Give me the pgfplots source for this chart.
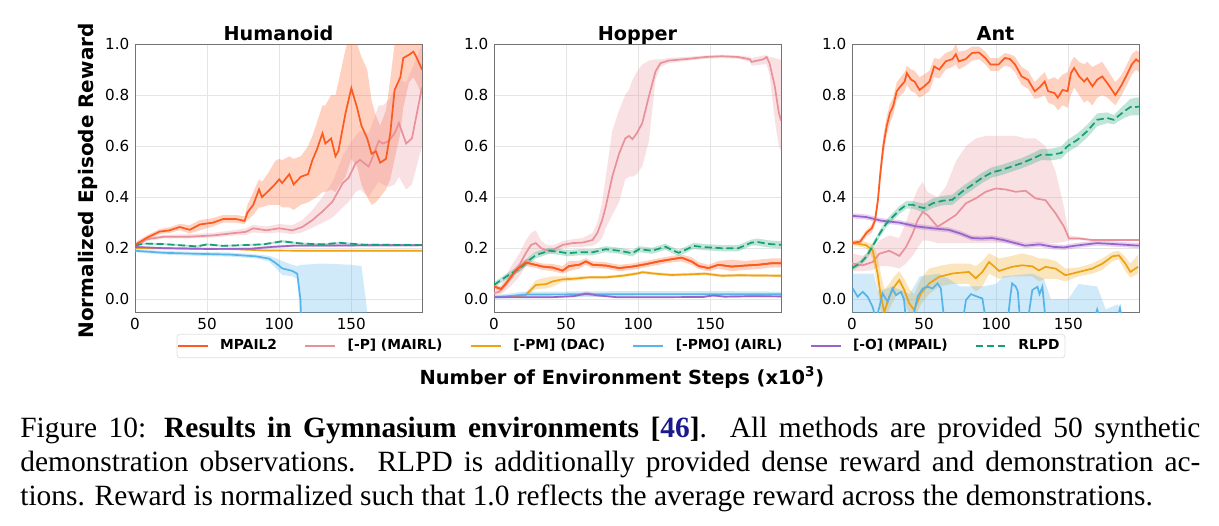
\documentclass[border=0pt]{standalone}
\usepackage{pgfplots}
\usepackage{pgfplotstable}
\pgfplotsset{compat=1.18}
\usepgfplotslibrary{fillbetween}
\usepackage{fontspec}
\setmainfont{DejaVu Sans}
\newfontfamily\capfont{Liberation Serif}

\definecolor{cM}{HTML}{FC5A1E}
\definecolor{cP}{HTML}{E8919B}
\definecolor{cD}{HTML}{EEA111}
\definecolor{cA}{HTML}{56B4E9}
\definecolor{cO}{HTML}{9B62C9}
\definecolor{cR}{HTML}{14A074}
\definecolor{navy}{HTML}{1A1A8C}

% ---------------- Humanoid ----------------
\pgfplotstableread{
x m lo hi
0 0.213 0.205 0.222
8 0.240 0.232 0.250
17 0.265 0.255 0.275
24 0.270 0.260 0.282
31 0.283 0.270 0.295
38 0.272 0.258 0.290
45 0.293 0.270 0.310
54 0.300 0.285 0.318
61 0.314 0.300 0.330
70 0.314 0.300 0.330
76 0.307 0.295 0.325
78 0.340 0.310 0.370
82 0.370 0.330 0.420
86 0.430 0.360 0.470
88 0.400 0.360 0.460
93 0.427 0.370 0.500
97 0.450 0.370 0.540
100 0.470 0.370 0.550
102 0.455 0.360 0.545
107 0.490 0.360 0.560
110 0.450 0.350 0.550
115 0.480 0.370 0.560
120 0.490 0.380 0.600
123 0.545 0.390 0.640
126 0.585 0.400 0.690
130 0.650 0.420 0.760
132 0.610 0.420 0.760
136 0.630 0.430 0.800
139 0.560 0.420 0.800
141 0.580 0.440 0.850
146 0.730 0.480 0.980
150 0.827 0.550 1.050
154 0.750 0.520 1.000
157 0.680 0.450 0.950
161 0.630 0.400 0.900
164 0.570 0.370 0.780
167 0.580 0.380 0.720
170 0.535 0.400 0.680
174 0.550 0.430 0.740
177 0.650 0.470 0.860
180 0.820 0.550 1.000
184 0.870 0.650 1.050
186 0.945 0.750 1.050
190 0.958 0.850 1.050
193 0.970 0.870 1.050
195 0.950 0.850 1.050
199 0.900 0.800 1.000
}\HuM
\pgfplotstableread{
x m lo hi
0 0.205 0.200 0.212
8 0.235 0.228 0.242
20 0.245 0.238 0.252
38 0.245 0.238 0.255
54 0.250 0.242 0.260
70 0.260 0.250 0.272
77 0.264 0.252 0.278
82 0.278 0.262 0.292
91 0.270 0.258 0.285
100 0.278 0.262 0.295
109 0.270 0.255 0.290
116 0.283 0.262 0.310
123 0.310 0.280 0.350
130 0.344 0.300 0.400
137 0.383 0.320 0.460
144 0.455 0.360 0.560
148 0.475 0.380 0.600
153 0.533 0.420 0.640
156 0.546 0.430 0.660
162 0.520 0.400 0.650
164 0.546 0.420 0.680
169 0.620 0.460 0.760
172 0.610 0.450 0.760
176 0.620 0.440 0.780
180 0.650 0.450 0.820
183 0.690 0.480 0.860
188 0.610 0.430 0.850
192 0.630 0.450 0.900
199 0.830 0.600 1.000
}\HuP
\pgfplotstableread{
x m lo hi
0 0.200 0.197 0.203
40 0.199 0.196 0.202
70 0.196 0.193 0.199
90 0.191 0.188 0.194
120 0.190 0.187 0.193
199 0.190 0.187 0.193
}\HuD
\pgfplotstableread{
x m lo hi
0 0.190 0.184 0.196
20 0.182 0.175 0.189
43 0.178 0.170 0.186
66 0.175 0.167 0.183
84 0.168 0.160 0.176
93 0.159 0.148 0.170
98 0.140 0.120 0.160
102 0.121 0.095 0.150
109 0.111 0.090 0.135
112.5 0.100 0.080 0.130
114.8 -0.004 -0.100 0.135
116 -0.500 -0.600 0.135
130 -0.500 -0.600 0.140
150 -0.500 -0.600 0.135
157 -0.500 -0.600 0.130
160 -0.500 -0.600 0.000
162 -0.500 -0.600 -0.100
199 -0.500 -0.600 -0.500
}\HuA
\pgfplotstableread{
x m lo hi
0 0.205 0.201 0.209
20 0.200 0.196 0.204
50 0.197 0.193 0.201
80 0.198 0.194 0.202
95 0.205 0.200 0.210
110 0.210 0.205 0.215
199 0.212 0.207 0.217
}\HuO
\pgfplotstableread{
x m lo hi
0 0.212 0.208 0.216
8 0.218 0.214 0.222
20 0.216 0.212 0.220
43 0.207 0.203 0.211
50 0.215 0.211 0.219
61 0.209 0.205 0.213
89 0.215 0.211 0.219
102 0.227 0.222 0.232
116 0.218 0.214 0.222
130 0.215 0.211 0.219
142 0.221 0.217 0.225
158 0.214 0.210 0.218
199 0.212 0.208 0.216
}\HuR

% ---------------- Hopper ----------------
\pgfplotstableread{
x m lo hi
0 0.050 0.040 0.060
5 0.040 0.030 0.050
8.5 0.063 0.050 0.075
15.4 0.115 0.100 0.130
22 0.144 0.130 0.158
27 0.137 0.125 0.150
33.8 0.128 0.115 0.140
40.7 0.124 0.110 0.138
47.6 0.112 0.100 0.130
52 0.130 0.110 0.150
59 0.135 0.120 0.150
63.7 0.148 0.135 0.160
68.3 0.135 0.122 0.148
77.5 0.132 0.120 0.145
86.7 0.122 0.110 0.135
96 0.128 0.115 0.140
105 0.137 0.125 0.150
114 0.148 0.135 0.160
123.4 0.157 0.145 0.170
130 0.163 0.148 0.175
137 0.148 0.135 0.165
142 0.130 0.118 0.145
148.7 0.122 0.110 0.135
155.6 0.135 0.120 0.150
164.8 0.128 0.110 0.155
174 0.132 0.115 0.150
183 0.135 0.118 0.155
192.4 0.141 0.125 0.160
199 0.141 0.125 0.160
}\HoM
\pgfplotstableread{
x m lo hi
0 0.024 0.015 0.035
4 0.030 0.018 0.045
8.5 0.063 0.035 0.095
13 0.100 0.060 0.140
17.7 0.135 0.090 0.180
22 0.180 0.130 0.230
25.7 0.213 0.170 0.260
29 0.220 0.180 0.270
32.6 0.200 0.180 0.230
36 0.193 0.180 0.215
40.7 0.193 0.180 0.210
47.6 0.213 0.200 0.228
54.5 0.220 0.205 0.235
61.4 0.222 0.205 0.240
68.3 0.232 0.210 0.260
71.7 0.260 0.220 0.300
75 0.310 0.240 0.380
77.5 0.363 0.280 0.480
82 0.480 0.330 0.660
86.7 0.570 0.380 0.740
91 0.630 0.470 0.800
93.6 0.640 0.480 0.820
96 0.627 0.480 0.860
99 0.650 0.490 0.890
102.8 0.690 0.520 0.920
107.4 0.795 0.620 0.935
112 0.893 0.860 0.940
115.4 0.925 0.910 0.940
121 0.935 0.925 0.945
135 0.942 0.935 0.950
146.4 0.949 0.942 0.955
158 0.952 0.945 0.958
169.4 0.949 0.942 0.955
177.5 0.940 0.930 0.950
178.6 0.930 0.915 0.945
186.7 0.940 0.920 0.955
189 0.949 0.920 0.955
191 0.925 0.880 0.950
194.7 0.834 0.700 0.945
197.5 0.730 0.600 0.940
199 0.700 0.580 0.940
}\HoP
\pgfplotstableread{
x m lo hi
0 0.010 0.006 0.014
13 0.010 0.006 0.014
22 0.017 0.010 0.025
29 0.056 0.040 0.075
36 0.059 0.042 0.085
40.7 0.070 0.050 0.090
47.6 0.078 0.068 0.090
54.5 0.080 0.072 0.088
66 0.086 0.080 0.092
77.5 0.086 0.080 0.092
89 0.092 0.086 0.098
100.5 0.102 0.096 0.108
102.8 0.106 0.100 0.112
112 0.100 0.094 0.106
123.4 0.095 0.089 0.101
146.4 0.100 0.094 0.106
158 0.092 0.086 0.098
169.4 0.094 0.088 0.100
199 0.092 0.086 0.098
}\HoD
\pgfplotstableread{
x m lo hi
0 0.008 0.002 0.015
10 0.012 0.004 0.022
20 0.018 0.008 0.030
40 0.019 0.008 0.030
100 0.020 0.010 0.032
150 0.020 0.010 0.032
199 0.020 0.010 0.030
}\HoA
\pgfplotstableread{
x m lo hi
0 0.008 0.005 0.011
40 0.008 0.005 0.011
55 0.012 0.008 0.016
64 0.022 0.015 0.030
72 0.015 0.010 0.020
85 0.008 0.005 0.011
120 0.008 0.005 0.011
145 0.009 0.005 0.013
152 0.015 0.010 0.020
160 0.010 0.006 0.014
180 0.012 0.008 0.016
199 0.011 0.007 0.015
}\HoO
\pgfplotstableread{
x m lo hi
0 0.056 0.046 0.066
8.5 0.089 0.078 0.100
17.7 0.120 0.108 0.132
24.6 0.154 0.140 0.168
29 0.173 0.160 0.186
38.4 0.190 0.178 0.202
45 0.186 0.174 0.198
51 0.180 0.168 0.192
59 0.184 0.172 0.196
68.3 0.184 0.172 0.196
77.5 0.196 0.184 0.208
86.7 0.190 0.178 0.202
96 0.180 0.168 0.192
100.5 0.196 0.184 0.208
109.7 0.190 0.178 0.202
118.9 0.206 0.194 0.218
123.4 0.193 0.181 0.205
128 0.182 0.170 0.194
132.6 0.193 0.181 0.205
138.4 0.209 0.197 0.221
146.4 0.204 0.192 0.216
158 0.200 0.188 0.212
169.4 0.200 0.188 0.212
178.6 0.222 0.210 0.234
183 0.224 0.210 0.238
190 0.217 0.203 0.231
199 0.213 0.199 0.227
}\HoR

% ---------------- Ant ----------------
\pgfplotstableread{
x m lo hi
0 0.220 0.212 0.228
5.7 0.226 0.216 0.236
10 0.260 0.245 0.272
13.7 0.278 0.262 0.292
16 0.310 0.290 0.330
18 0.390 0.360 0.420
19.4 0.480 0.440 0.520
21.7 0.600 0.560 0.640
24 0.677 0.640 0.715
26.3 0.730 0.690 0.765
28.5 0.756 0.720 0.790
31 0.815 0.780 0.850
33 0.830 0.795 0.865
36.5 0.853 0.815 0.890
38 0.886 0.840 0.915
41 0.860 0.815 0.900
43.4 0.853 0.810 0.895
46.8 0.820 0.790 0.870
50 0.834 0.800 0.880
53.7 0.853 0.815 0.895
57 0.912 0.870 0.945
60.5 0.900 0.865 0.940
65 0.932 0.900 0.965
69.6 0.941 0.910 0.975
72 0.960 0.920 1.000
74 0.932 0.900 0.970
78.8 0.941 0.915 0.975
83.3 0.965 0.935 0.990
88 0.967 0.940 0.990
92.5 0.945 0.920 0.970
96 0.920 0.895 0.945
101.6 0.920 0.895 0.945
106 0.945 0.915 0.965
109.6 0.941 0.910 0.960
113 0.920 0.890 0.950
117.6 0.873 0.840 0.910
122 0.860 0.825 0.895
126.7 0.815 0.785 0.850
130 0.830 0.790 0.870
133.6 0.853 0.800 0.890
136 0.815 0.770 0.860
140.4 0.808 0.760 0.870
142.7 0.790 0.740 0.860
146 0.820 0.760 0.880
149.5 0.815 0.750 0.890
151.8 0.886 0.800 0.930
154 0.906 0.830 0.950
157.5 0.873 0.800 0.930
161 0.853 0.770 0.920
163 0.866 0.780 0.930
166.7 0.834 0.760 0.910
170 0.860 0.790 0.920
173.5 0.873 0.800 0.930
177 0.847 0.790 0.900
182.6 0.800 0.760 0.850
187 0.840 0.800 0.880
190.6 0.880 0.840 0.920
194 0.920 0.880 0.960
197 0.940 0.900 0.975
199 0.930 0.890 0.970
}\AnM
\pgfplotstableread{
x m lo hi
0 0.140 0.110 0.180
7.4 0.133 0.110 0.170
14.3 0.146 0.115 0.190
18.9 0.178 0.130 0.230
25.8 0.190 0.130 0.250
32.8 0.170 0.120 0.240
37.4 0.204 0.140 0.300
42 0.257 0.170 0.380
45.4 0.309 0.200 0.430
49 0.342 0.230 0.460
52.4 0.330 0.230 0.420
59.3 0.284 0.220 0.400
65 0.304 0.220 0.440
72 0.330 0.220 0.540
79 0.376 0.220 0.600
85.8 0.395 0.220 0.630
92.7 0.421 0.220 0.640
99.7 0.434 0.220 0.640
106.6 0.430 0.220 0.640
113.5 0.421 0.220 0.640
120.4 0.425 0.220 0.630
127.3 0.395 0.220 0.630
134.2 0.388 0.220 0.600
141.2 0.336 0.220 0.500
147 0.284 0.225 0.360
150.4 0.238 0.230 0.250
157.3 0.238 0.232 0.245
166.5 0.232 0.228 0.236
199 0.232 0.228 0.236
}\AnP
\pgfplotstableread{
x m lo hi
0.5 0.221 0.212 0.230
9.7 0.212 0.200 0.225
14.3 0.192 0.160 0.215
17.8 0.100 0.040 0.170
20 0.010 -0.050 0.100
22.4 -0.050 -0.100 0.040
25.8 0.010 -0.040 0.060
29.3 0.049 0.000 0.090
32.8 0.075 0.030 0.110
36.2 0.036 -0.010 0.080
39.7 -0.016 -0.060 0.040
43.1 -0.042 -0.080 0.020
47.8 0.023 -0.020 0.080
53.5 0.062 0.020 0.120
60.5 0.088 0.050 0.130
69.6 0.101 0.060 0.140
81 0.107 0.060 0.140
85.8 0.082 0.030 0.130
90.4 0.107 0.050 0.150
95 0.146 0.100 0.180
102 0.111 0.080 0.160
111 0.127 0.090 0.170
118 0.133 0.090 0.180
125 0.129 0.090 0.170
129.6 0.113 0.070 0.160
134.2 0.127 0.080 0.160
141.2 0.120 0.080 0.150
148 0.094 0.070 0.120
157.3 0.107 0.090 0.125
166.5 0.120 0.100 0.140
173.5 0.139 0.115 0.160
180.5 0.168 0.150 0.185
185 0.172 0.155 0.190
189.6 0.139 0.110 0.165
193 0.107 0.085 0.140
198.4 0.127 0.100 0.175
}\AnD
\pgfplotstableread{
x lo hi
0 -0.2 0.10
15 -0.2 0.10
18 -0.2 0.03
28 -0.2 0.05
40 -0.2 0.02
47 -0.2 0.09
60 -0.2 0.10
67 -0.2 0.08
75 -0.2 0.05
90 -0.2 0.05
100 -0.2 0.06
105 -0.2 0.09
125 -0.2 0.10
133 -0.2 0.08
138 -0.2 0.00
150 -0.2 0.00
157 -0.2 0.06
170 -0.2 0.05
176 -0.2 -0.04
184 -0.2 -0.02
190 -0.2 -0.07
199 -0.2 -0.07
}\AnAb
\pgfplotstableread{
x m
0.5 0.042
3.9 0.010
7.4 0.029
10.8 0.010
14.3 -0.030
16.6 -0.080
19 -0.030
21.2 0.023
24.7 -0.010
28 0.042
30.5 0.016
34 0.029
36 0.000
37.4 -0.080
42 -0.080
45.4 0.010
49 0.042
52.4 0.049
55.8 0.042
59.3 0.062
61.6 0.042
63.9 -0.080
77 -0.080
79 -0.003
82.5 0.020
87 0.010
90.4 0.003
92.7 -0.080
108 -0.080
110 0.020
111 0.062
113.5 0.050
115 0.030
116.5 -0.080
122 -0.080
125 0.036
128.6 0.049
130 0.020
132 0.049
134.2 -0.080
168 -0.080
170 -0.040
172 -0.080
184 -0.080
185.8 -0.035
187 -0.080
199 -0.080
}\AnAm
\pgfplotstableread{
x m lo hi
0 0.327 0.317 0.337
10 0.322 0.312 0.332
20 0.308 0.298 0.318
33 0.300 0.290 0.310
45 0.285 0.275 0.295
56 0.278 0.268 0.288
67 0.272 0.262 0.282
75 0.258 0.248 0.268
83 0.240 0.230 0.250
90 0.238 0.228 0.248
97 0.240 0.230 0.250
105 0.232 0.222 0.242
113 0.220 0.210 0.230
120 0.210 0.200 0.220
130 0.215 0.205 0.225
140 0.205 0.195 0.215
147 0.203 0.193 0.213
155 0.210 0.200 0.220
170 0.220 0.210 0.230
185 0.215 0.205 0.225
199 0.210 0.200 0.220
}\AnO
\pgfplotstableread{
x m lo hi
0 0.122 0.112 0.132
5.7 0.141 0.130 0.152
10 0.167 0.155 0.180
14.8 0.213 0.200 0.226
19.4 0.259 0.245 0.272
24 0.298 0.284 0.312
28.5 0.324 0.310 0.340
33 0.350 0.335 0.365
37.7 0.370 0.355 0.385
42.2 0.370 0.355 0.385
47 0.361 0.345 0.378
50 0.357 0.340 0.375
56 0.376 0.358 0.395
62.8 0.386 0.368 0.405
69.6 0.390 0.370 0.410
76.5 0.422 0.402 0.442
83.3 0.448 0.428 0.468
90 0.475 0.455 0.495
97 0.497 0.477 0.517
104 0.507 0.487 0.527
110.7 0.520 0.500 0.540
117.6 0.533 0.513 0.553
124.4 0.549 0.528 0.570
131 0.566 0.545 0.588
138 0.566 0.544 0.590
145 0.573 0.550 0.598
149.5 0.600 0.576 0.625
156.4 0.625 0.600 0.650
163 0.658 0.633 0.683
170 0.703 0.678 0.728
177 0.710 0.690 0.732
181.5 0.703 0.685 0.722
188.4 0.735 0.710 0.760
193 0.753 0.720 0.785
197 0.753 0.720 0.790
199 0.755 0.722 0.790
}\AnR

\newcommand{\band}[3]{%
  \addplot[draw=none, forget plot, name path=L#3] table[x=x,y=lo]{#1};
  \addplot[draw=none, forget plot, name path=U#3] table[x=x,y=hi]{#1};
  \addplot[fill=#2, fill opacity=0.28, draw=none, forget plot] fill between[of=L#3 and U#3];
}

\pgfplotsset{
  panel/.style={
    scale only axis, width=143.5pt, height=134pt,
    xmin=0, xmax=199, ymin=-0.05, ymax=1.0,
    xtick={0,50,100,150}, ytick={0,0.2,0.4,0.6,0.8,1.0},
    /pgf/number format/assume math mode=true,
    yticklabel style={/pgf/number format/fixed, /pgf/number format/fixed zerofill, /pgf/number format/precision=1, inner sep=0pt, xshift=-2.6pt},
    xticklabel style={inner sep=0pt, yshift=-3pt},
    tick label style={font=\fontsize{7.6}{9}\selectfont},
    grid=major, major grid style={draw=black!10, line width=0.4pt},
    axis line style={draw=black!55, line width=0.5pt},
    major tick length=0pt,
    every axis title shift=0pt,
    title style={font=\bfseries\fontsize{9.6}{11}\selectfont, at={(0.5,1)}, anchor=base, yshift=1.7pt},
    legend image code/.code={\draw[#1] (0pt,0pt) -- (15pt,0pt);},
  },
  lM/.style={cM, line width=0.85pt},
  lP/.style={cP, line width=0.85pt},
  lD/.style={cD, line width=0.85pt},
  lA/.style={cA, line width=0.85pt},
  lO/.style={cO, line width=0.85pt},
  lR/.style={cR, line width=0.85pt, dash pattern=on 3.6pt off 1.8pt},
}

\begin{document}
\begin{tikzpicture}

% Humanoid
\begin{axis}[panel, at={(67.5pt,-22pt)}, anchor=north west, title={Humanoid},
  ylabel={Normalized Episode Reward},
  ylabel style={at={(axis description cs:-0.146,0.489)}, anchor=base, font=\bfseries\fontsize{10}{12}\selectfont}]
  \band{\HuM}{cM}{hm}
  \band{\HuP}{cP}{hp}
  \band{\HuD}{cD}{hd}
  \band{\HuA}{cA}{ha}
  \band{\HuO}{cO}{ho}
  \band{\HuR}{cR}{hr}
  \addplot[lP] table[x=x,y=m]{\HuP};
  \addplot[lD] table[x=x,y=m]{\HuD};
  \addplot[lA] table[x=x,y=m]{\HuA};
  \addplot[lO] table[x=x,y=m]{\HuO};
  \addplot[lR] table[x=x,y=m]{\HuR};
  \addplot[lM] table[x=x,y=m]{\HuM};
\end{axis}

% Hopper
\begin{axis}[panel, at={(247pt,-22pt)}, anchor=north west, title={Hopper},
  legend columns=6,
  legend style={at={(0.4425,-0.127)}, anchor=center, draw=black!12, rounded corners=1.5pt, fill=white,
    inner xsep=0pt, inner ysep=1pt,
    font=\bfseries\fontsize{6.9}{8}\selectfont,
    nodes={inner xsep=2.75pt, inner ysep=1.5pt},
    /tikz/every odd column/.append style={column sep=3pt},
    /tikz/every even column/.append style={column sep=11pt}}]
  \band{\HoM}{cM}{pm}
  \band{\HoP}{cP}{pp}
  \band{\HoD}{cD}{pd}
  \band{\HoA}{cA}{pa}
  \band{\HoO}{cO}{po}
  \band{\HoR}{cR}{pr}
  \addplot[lM] table[x=x,y=m]{\HoM};
  \addplot[lP] table[x=x,y=m]{\HoP};
  \addplot[lD] table[x=x,y=m]{\HoD};
  \addplot[lA] table[x=x,y=m]{\HoA};
  \addplot[lO] table[x=x,y=m]{\HoO};
  \addplot[lR] table[x=x,y=m]{\HoR};
  \legend{MPAIL2,{\relax[-P] (MAIRL)},{\relax[-PM] (DAC)},{\relax[-PMO] (AIRL)},{\relax[-O] (MPAIL)},RLPD}
  \addplot[lM, forget plot] table[x=x,y=m]{\HoM};
\end{axis}

% Ant
\begin{axis}[panel, at={(426pt,-22pt)}, anchor=north west, title={Ant}]
  \band{\AnM}{cM}{am}
  \band{\AnP}{cP}{ap}
  \band{\AnD}{cD}{ad}
  \band{\AnAb}{cA}{aa}
  \band{\AnO}{cO}{ao}
  \band{\AnR}{cR}{ar}
  \addplot[lP] table[x=x,y=m]{\AnP};
  \addplot[lD] table[x=x,y=m]{\AnD};
  \addplot[lA] table[x=x,y=m]{\AnAm};
  \addplot[lO] table[x=x,y=m]{\AnO};
  \addplot[lR] table[x=x,y=m]{\AnR};
  \addplot[lM] table[x=x,y=m]{\AnM};
\end{axis}

\node[anchor=base, font=\bfseries\fontsize{9.7}{12}\selectfont, inner sep=0pt] at (311pt,-192pt)
  {Number of Environment Steps (x10\textsuperscript{3})};

\node[anchor=north west, inner sep=0pt, font=\capfont\fontsize{14.7}{17}\selectfont, align=left] at (10pt,-208.5pt)
  {\makebox[590pt][s]{Figure 10: \textbf{Results in Gymnasium environments [{\color{navy}46}]}.\ \ All methods are provided 50 synthetic}\\
   \makebox[590pt][s]{demonstration observations.\ \ RLPD is additionally provided dense reward and demonstration ac-}\\
   tions. Reward is normalized such that 1.0 reflects the average reward across the demonstrations.};

\pgfresetboundingbox
\path[use as bounding box] (0,0) rectangle (609.5pt,-262.5pt);
\end{tikzpicture}
\end{document}
